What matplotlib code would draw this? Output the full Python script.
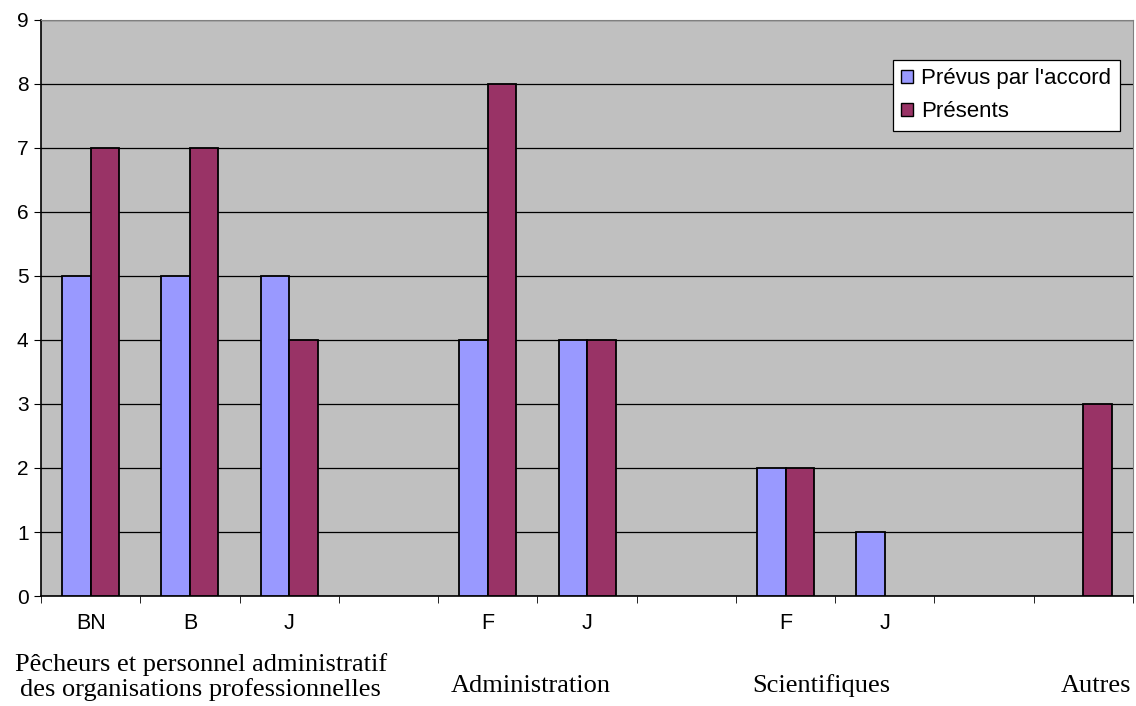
import matplotlib.pyplot as plt
import numpy as np
from matplotlib.patches import Patch

labels = ['BN', 'B', 'J', '', 'F', 'J', '', 'F', 'J', '', '']
prevus = [5, 5, 5, np.nan, 4, 4, np.nan, 2, 1, np.nan, np.nan]
presents = [7, 7, 4, np.nan, 8, 4, np.nan, 2, np.nan, np.nan, 3]
groups = ['Pêcheurs et personnel administratif\ndes organisations professionnelles',
          'Administration', 'Scientifiques', 'Autres']
group_pos = [1.11, 4.43, 7.36, 10.13]

blue = '#9999FF'
red = '#993366'

fig = plt.figure(figsize=(11.36, 7.06), dpi=100)
ax = fig.add_axes([0.0361, 0.1558, 0.9613, 0.8159])
ax.set_facecolor('#C0C0C0')

x = np.arange(len(labels))
w = 0.287
ax.bar(x - w / 2, prevus, w, color=blue, edgecolor='black', linewidth=1.3, zorder=3)
ax.bar(x + w / 2, presents, w, color=red, edgecolor='black', linewidth=1.3, zorder=3)

ax.set_xlim(-0.5, len(labels) - 0.5)
ax.set_ylim(0, 9)
ax.set_yticks(range(10))
ax.yaxis.grid(True, color='black', linewidth=0.9, zorder=1)
ax.set_axisbelow(True)

ax.set_xticks(x)
ax.set_xticklabels(labels, fontsize=15.5, family='Liberation Sans')
ax.tick_params(axis='x', length=0, pad=12)
ax.set_xticks(np.arange(-0.5, len(labels)), minor=True)
ax.tick_params(axis='x', which='minor', length=5, direction='out', color='black')
ax.tick_params(axis='y', length=5, direction='out', labelsize=15, color='black', pad=4)
for t in ax.get_yticklabels():
    t.set_family('Liberation Sans')

for s in ['left', 'bottom']:
    ax.spines[s].set_color('black')
    ax.spines[s].set_linewidth(1.2)
for s in ['top', 'right']:
    ax.spines[s].set_color('#808080')

for g, p in zip(groups, group_pos):
    ax.text(p, -0.1406 if '\n' in g else -0.156, g, transform=ax.get_xaxis_transform(),
            ha='center', va='center', fontsize=19, family='Liberation Serif', linespacing=1.1)

handles = [Patch(facecolor=blue, edgecolor='black', label="Prévus par l'accord"),
           Patch(facecolor=red, edgecolor='black', label='Présents')]
leg = ax.legend(handles=handles, loc='upper left', bbox_to_anchor=(0.780, 0.931), borderaxespad=0,
                prop={'family': 'Liberation Sans', 'size': 16}, fancybox=False,
                edgecolor='black', framealpha=1, handlelength=0.55, handleheight=0.55,
                handletextpad=0.35, labelspacing=0.55, borderpad=0.38)
leg.get_frame().set_linewidth(0.9)
leg.set_zorder(5)

fig.savefig('out.png', dpi=100)
